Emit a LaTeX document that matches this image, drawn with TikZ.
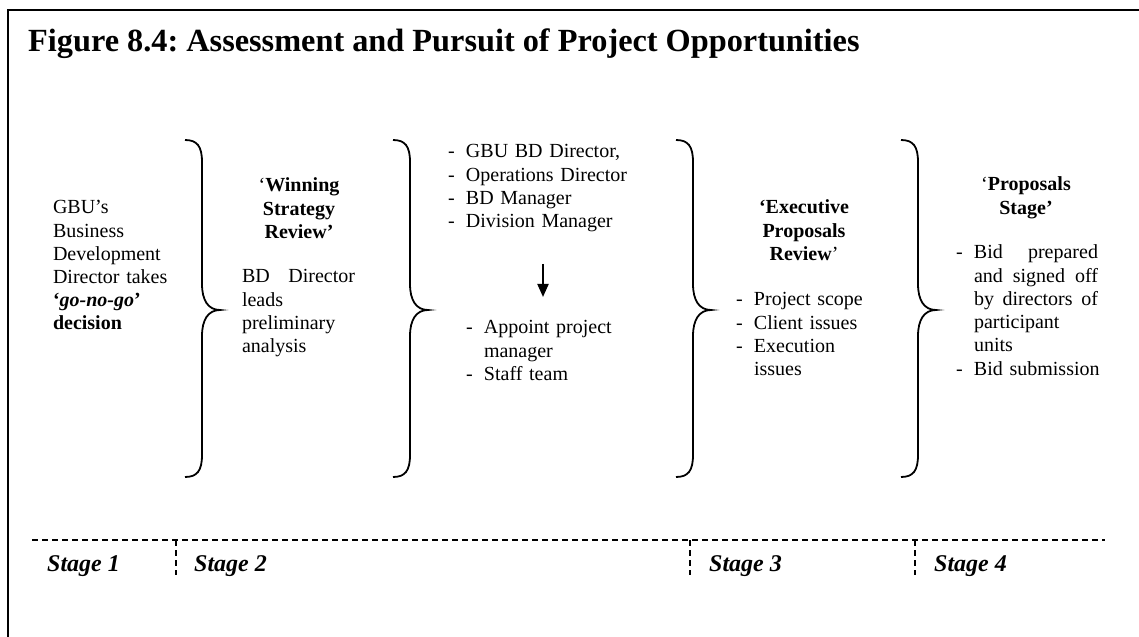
\documentclass[tikz,border=0pt]{standalone}
\usepackage{fontspec}
\setmainfont{Liberation Serif}
\usetikzlibrary{arrows.meta}
\frenchspacing
\newcommand{\litem}[1]{\makebox[18bp][l]{-}#1}
\newcommand{\lcont}[1]{\hspace*{18bp}#1}
\newcommand{\jline}[2]{\makebox[#1][l]{#2}}
\newcommand{\vbrace}[1]{%
 \draw[brc] ({#1-17},140) .. controls ({#1-5},140) and (#1,146) .. (#1,162)
   -- (#1,284) .. controls (#1,300) and ({#1+6},310) .. ({#1+18},310)
   .. controls ({#1+6},310) and (#1,320) .. (#1,336)
   -- (#1,455) .. controls (#1,471) and ({#1-5},477) .. ({#1-17},477);}
\begin{document}
\begin{tikzpicture}[x=1bp,y=-1bp,
  txt/.style={inner sep=0pt, outer sep=0pt, font=\fontsize{20bp}{23.2bp}\selectfont, anchor=base west, align=left},
  ttl/.style={inner sep=0pt, outer sep=0pt, font=\fontsize{20bp}{23.2bp}\selectfont, anchor=base, align=center},
  stagelbl/.style={inner sep=0pt, font=\fontsize{24bp}{28bp}\selectfont\bfseries\itshape, anchor=base west},
  brc/.style={line width=1.8bp},
  frame/.style={line width=2.2bp},
  stageline/.style={line width=1.2bp, dash pattern=on 6bp off 4bp},
  flow/.style={line width=2bp, -{Triangle[length=13bp,width=11bp]}}
]
\useasboundingbox (0,0) rectangle (1139,637);
\draw[frame] (8,637) -- (8,10) -- (1139,10);
\node[inner sep=0pt, anchor=base west, font=\fontsize{32.3bp}{36bp}\selectfont\bfseries] (title) at (28,52) {Figure 8.4: Assessment and Pursuit of Project Opportunities};

% braces
\vbrace{202}
\vbrace{410}
\vbrace{693}
\vbrace{918}

% stage 1 block
\node[txt, text width=125bp] (gbu) at (53,214) {GBU's\\Business\\Development\\Director takes\\\textbf{`\textit{go-no-go}'}\\\textbf{decision}};

% winning strategy review
\node[ttl, text width=110bp] (wsr) at (299,192) {`\textbf{Winning}\\\textbf{Strategy}\\\textbf{Review'}};
\node[txt, text width=113bp] (bdd) at (242,283) {\jline{113bp}{BD\hfill Director}\\leads\\preliminary\\analysis};

% team
\node[txt, text width=200bp] (team) at (448,158) {\litem{GBU BD Director,}\\\litem{Operations Director}\\\litem{BD Manager}\\\litem{Division Manager}};
\coordinate (arrS) at (543,264);
\coordinate (arrE) at (543,297);
\draw[flow] (arrS) -- (arrE);
\node[txt, text width=200bp] (appoint) at (466,334) {\litem{Appoint project}\\\lcont{manager}\\\litem{Staff team}};

% executive proposals review
\node[ttl, text width=120bp] (epr) at (804,214) {\textbf{`Executive}\\\textbf{Proposals}\\\textbf{Review}'};
\node[txt, text width=150bp] (scope) at (736,306) {\litem{Project scope}\\\litem{Client issues}\\\litem{Execution}\\\lcont{issues}};

% proposals stage
\node[ttl, text width=120bp] (ps) at (1026,191) {`\textbf{Proposals}\\\textbf{Stage'}};
\node[txt, text width=160bp] (bid) at (956,259) {\litem{\jline{124bp}{Bid\hfill prepared}}\\\lcont{\jline{124bp}{and\hfill signed\hfill off}}\\\lcont{\jline{124bp}{by\hfill directors\hfill of}}\\\lcont{participant}\\\lcont{units}\\\litem{Bid submission}};

% stage row
\coordinate (sl0) at (32,540);
\coordinate (sl1) at (1105,540);
\draw[stageline] (sl0) -- (sl1);
\coordinate (v2a) at (176,540); \coordinate (v2b) at (176,575);
\coordinate (v3a) at (690,540); \coordinate (v3b) at (690,575);
\coordinate (v4a) at (915,540); \coordinate (v4b) at (915,575);
\draw[stageline] (v2a) -- (v2b);
\draw[stageline] (v3a) -- (v3b);
\draw[stageline] (v4a) -- (v4b);
\node[stagelbl] (s1) at (47,571) {Stage 1};
\node[stagelbl] (s2) at (194,571) {Stage 2};
\node[stagelbl] (s3) at (709,571) {Stage 3};
\node[stagelbl] (s4) at (934,571) {Stage 4};
\end{tikzpicture}
\end{document}
